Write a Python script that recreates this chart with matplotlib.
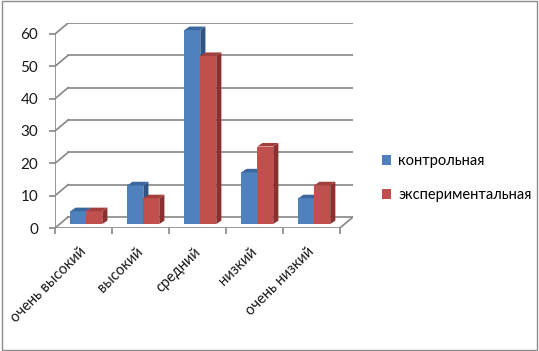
import matplotlib
matplotlib.use("Agg")
import matplotlib.pyplot as plt
from matplotlib.patches import Polygon, Patch, Rectangle

categories = ["очень высокий", "высокий", "средний", "низкий", "очень низкий"]
series_names = ["контрольная", "экспериментальная"]
control = [4, 12, 60, 16, 8]
experimental = [4, 8, 52, 24, 12]
yticks = [0, 10, 20, 30, 40, 50, 60]

plt.rcParams['font.family'] = ['Lato', 'DejaVu Sans']

front = ["#4F81BD", "#C0504D"]
topc = ["#3C679C", "#A33F3C"]
sidec = ["#2E5384", "#8A302E"]

W, H = 539, 351
fig = plt.figure(figsize=(W / 100, H / 100), dpi=100)
fig.patch.set_facecolor("white")
fig.add_artist(Rectangle((0.004, 0.003), 0.992, 0.994, transform=fig.transFigure,
                         fill=False, edgecolor="#8c8c8c", linewidth=1.0))

ax = fig.add_axes([55 / W, 1 - 228 / H, (353 - 55) / W, (228 - 23) / H])
n = len(categories)
dxw, dyw = 0.23, 3.4      # back-wall offset (data units)
dxb, dyb = 0.09, 1.1      # bar depth offset
bshift, bbase = 0.05, 1.2  # bar placement (mid depth)
bw = 0.28

ax.set_xlim(-0.5, n - 0.5 + dxw)
ax.set_ylim(0, max(yticks) + dyw)
for s in ax.spines.values():
    s.set_visible(False)

gc = "#868686"
for v in yticks:
    ax.plot([-0.5, -0.5 + dxw], [v, v + dyw], color=gc, lw=1.2, zorder=1)
    ax.plot([-0.5 + dxw, n - 0.5 + dxw], [v + dyw, v + dyw], color=gc, lw=1.2, zorder=1)
ax.plot([n - 0.5, n - 0.5 + dxw], [0, dyw], color=gc, lw=1.2, zorder=1)
ax.plot([-0.5, n - 0.5], [0, 0], color=gc, lw=1.2, zorder=1)
ax.plot([-0.5, -0.5], [0, max(yticks)], color=gc, lw=1.2, zorder=1)

# y ticks
ax.set_yticks(yticks)
ax.set_yticklabels([str(v) for v in yticks], fontsize=11, color="#1a1a1a")
ax.tick_params(axis='y', length=4, width=1.2, color=gc, pad=8, direction='out')
ax.set_xticks([i - 0.5 for i in range(n + 1)])
ax.set_xticklabels([])
ax.tick_params(axis='x', length=4, width=1.2, color=gc, direction='out')

z = 3
for i in range(n):
    for j, vals in enumerate([control, experimental]):
        v = vals[i]
        x0 = i - 0.5 + bshift + 0.5 - bw + j * bw
        x1 = x0 + bw
        b = bbase
        t = v + bbase
        ax.add_patch(Polygon([(x1, b), (x1 + dxb, b + dyb), (x1 + dxb, t + dyb), (x1, t)],
                             closed=True, facecolor=sidec[j], edgecolor='none', zorder=z))
        ax.bar([x0], [v], width=bw, bottom=b, align='edge', color=front[j],
               edgecolor='none', zorder=z + 0.1)
        ax.add_patch(Polygon([(x0, t), (x1, t), (x1 + dxb, t + dyb), (x0 + dxb, t + dyb)],
                             closed=True, facecolor=topc[j], edgecolor='none', zorder=z + 0.2))
        z += 1

for i, c in enumerate(categories):
    ax.annotate(c, xy=(i, 0), xycoords=('data', 'axes fraction'),
                xytext=(-3, -12), textcoords='offset points',
                rotation=45, ha='right', va='top', rotation_mode='anchor',
                fontsize=10.5, color="#1a1a1a")

handles = [Patch(facecolor=front[k], edgecolor='none') for k in range(2)]
fig.legend(handles, series_names, loc='center left', bbox_to_anchor=(382 / W, 1 - 178 / H),
           frameon=False, fontsize=10.5, handlelength=0.65, handleheight=0.65,
           handletextpad=0.45, labelspacing=1.35, borderaxespad=0, borderpad=0)

fig.savefig("out.png", dpi=100)
